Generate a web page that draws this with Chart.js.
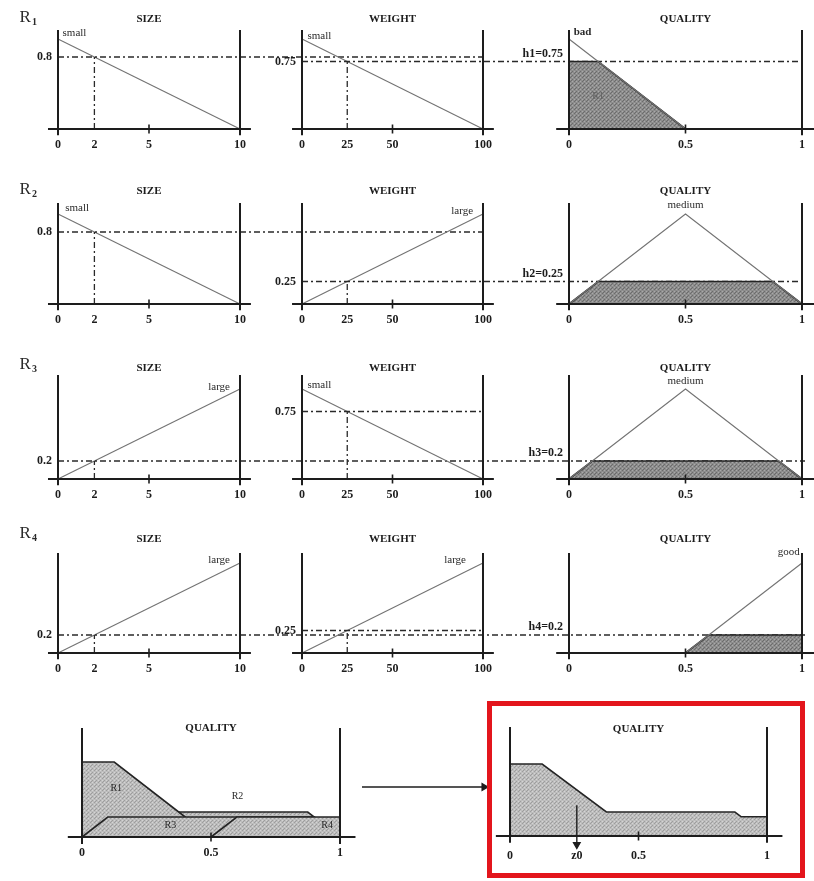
<!DOCTYPE html>
<html>
<head>
<meta charset="utf-8">
<script src="https://cdn.jsdelivr.net/npm/chart.js@4.4.1/dist/chart.umd.min.js"></script>
<style>
  body { margin: 0; background: #fff; }
  #page { position: relative; width: 814px; height: 881px; overflow: hidden; background: #fff; }
  #page canvas { position: absolute; left: 0; }
  #frame { position: absolute; left: 487px; top: 701px; width: 308px; height: 167px; border: 5px solid #e3151c; }
</style>
</head>
<body>
<div id="page"></div>
<script>
// ---- data ----
const rules = ['R1', 'R2', 'R3', 'R4'];
const sizeTerms = ['small', 'small', 'large', 'large'];
const weightTerms = ['small', 'large', 'small', 'large'];
const qualityTerms = ['bad', 'medium', 'medium', 'good'];

const sizeTicks = [0, 2, 5, 10];
const weightTicks = [0, 25, 50, 100];
const qualityTicks = [0, 0.5, 1];
const sizeMarks = [5];
const weightMarks = [50];
const qualityMarks = [0.5];

const inputSize = 2;
const inputWeight = 25;
const sizeDegree = [0.8, 0.8, 0.2, 0.2];
const weightDegree = [0.75, 0.25, 0.75, 0.25];
const ruleStrength = [0.75, 0.25, 0.2, 0.2];

// membership functions
const sizeX = [0, 10];
const sizeSmall = [1, 0];
const sizeLarge = [0, 1];
const weightX = [0, 100];
const weightSmall = [1, 0];
const weightLarge = [0, 1];
const badX = [0, 0.5], badY = [1, 0];
const mediumX = [0, 0.5, 1], mediumY = [0, 1, 0];
const goodX = [0.5, 1], goodY = [0, 1];

// clipped consequents per rule
const cutX = [[0, 0.125, 0.5], [0, 0.125, 0.875, 1], [0, 0.1, 0.9, 1], [0.5, 0.6, 1]];
const cutY = [[0.75, 0.75, 0], [0, 0.25, 0.25, 0], [0, 0.2, 0.2, 0], [0, 0.2, 0.2]];

// aggregated output and its centre
const aggX = [0, 0.125, 0.375, 0.875, 0.9, 1];
const aggY = [0.75, 0.75, 0.25, 0.25, 0.2, 0.2];
const centroid = 0.26;
const outTicks = [0, centroid, 0.5, 1];
const outTickText = ['0', 'z0', '0.5', '1'];

// ---- layout ----
const W = 814, YW = 48, XH = 26, UNIT = 90, HEAD = 18;
const serif = '"Liberation Serif", "DejaVu Serif", serif';
const ink = '#1d1d1d';
const page = document.getElementById('page');

const cols = {
  size: {x0: 58, x1: 240, max: 10},
  weight: {x0: 302, x1: 483, max: 100},
  quality: {x0: 569, x1: 805, max: 1}
};
const rowBox = [
  {base: 129, top: 30, titleY: 20},
  {base: 304, top: 203, titleY: 192},
  {base: 479, top: 375, titleY: 369},
  {base: 653, top: 553, titleY: 540}
];

// text spots, in each panel's own units
const rowNotes = [
  {size: [{x: -1.8, y: 1.24, text: 'R', sub: '1', size: 17, align: 'center'}, {x: 0.25, y: 1.07, text: 'small'}],
   weight: [{x: 3, y: 1.03, text: 'small'}],
   quality: [{x: 0.02, y: 1.08, text: 'bad', bold: true}, {x: 0.1, y: 0.36, text: 'R1', color: '#5f5f5f', size: 10}]},
  {size: [{x: -1.8, y: 1.27, text: 'R', sub: '2', size: 17, align: 'center'}, {x: 0.4, y: 1.06, text: 'small'}],
   weight: [{x: 94.5, y: 1.03, text: 'large', align: 'right'}],
   quality: [{x: 0.5, y: 1.1, text: 'medium', align: 'center'}]},
  {size: [{x: -1.8, y: 1.27, text: 'R', sub: '3', size: 17, align: 'center'}, {x: 9.45, y: 1.02, text: 'large', align: 'right'}],
   weight: [{x: 3, y: 1.04, text: 'small'}],
   quality: [{x: 0.5, y: 1.09, text: 'medium', align: 'center'}]},
  {size: [{x: -1.8, y: 1.33, text: 'R', sub: '4', size: 17, align: 'center'}, {x: 9.45, y: 1.03, text: 'large', align: 'right'}],
   weight: [{x: 90.6, y: 1.03, text: 'large', align: 'right'}],
   quality: [{x: 0.99, y: 1.12, text: 'good', align: 'right'}]}
];

function pts(xs, ys) { return xs.map((x, i) => ({x: x, y: ys[i]})); }
function toUnits(col, px) { return (px - col.x0) / (col.x1 - col.x0) * col.max; }

function dots(base, dark, light) {
  const c = document.createElement('canvas');
  c.width = 4; c.height = 4;
  const g = c.getContext('2d');
  g.fillStyle = base; g.fillRect(0, 0, 4, 4);
  g.fillStyle = dark; g.fillRect(0, 0, 1, 1); g.fillRect(2, 2, 1, 1); g.fillRect(3, 1, 1, 1);
  g.fillStyle = light; g.fillRect(2, 0, 1, 1); g.fillRect(0, 2, 1, 1);
  return g.createPattern(c, 'repeat');
}
const darkDots = dots('#8d8d8d', '#6c6c6c', '#a9a9a9');
const lightDots = dots('#bdbdbd', '#9d9d9d', '#d4d4d4');

function line(data, o) {
  return Object.assign({
    type: 'line', data: data, borderColor: '#737373', borderWidth: 1.1,
    pointRadius: 0, fill: false, clip: false, tension: 0, order: 2
  }, o || {});
}
const axisStyle = {borderColor: ink, borderWidth: 2, order: 0};
const dashStyle = {borderColor: '#2a2a2a', borderWidth: 1.3, borderDash: [6, 3, 2, 3], order: 1};
function cutStyle(pat, ord) {
  return {borderColor: '#242424', borderWidth: 1.6, backgroundColor: pat, fill: 'origin', order: ord || 3};
}

function notesPlugin(items) {
  return {
    id: 'notes',
    afterDatasetsDraw(chart) {
      const ctx = chart.ctx, sx = chart.scales.x, sy = chart.scales.y;
      items.forEach(n => {
        const px = sx.getPixelForValue(n.x), py = sy.getPixelForValue(n.y);
        const size = n.size || 11;
        ctx.save();
        ctx.font = (n.bold ? 'bold ' : '') + size + 'px ' + serif;
        ctx.fillStyle = n.color || '#2a2a2a';
        ctx.textAlign = n.align || 'left';
        ctx.textBaseline = 'middle';
        ctx.fillText(n.text, px, py);
        if (n.sub) {
          const w = ctx.measureText(n.text).width;
          ctx.font = 'bold 10px ' + serif;
          ctx.textAlign = 'left';
          ctx.fillText(n.sub, px + w / 2 + 1, py + 5);
        }
        ctx.restore();
      });
    }
  };
}

function panel(p) {
  const col = p.col, m = col.max;
  const lh = 11 * 1.2;
  const chartTop = p.titleY + 10;
  const ct = Math.round(p.titleY - lh / 2);
  const ymin = p.ymin || 0;
  const bottom = p.base - ymin * p.unit;
  const h = Math.ceil(bottom - ct + HEAD + XH + 24);
  const cv = document.createElement('canvas');
  cv.width = W; cv.height = h; cv.style.top = (ct - HEAD) + 'px';
  page.appendChild(cv);
  const topVal = (p.base - p.top) / p.unit;
  const sets = [
    line([{x: 0, y: -0.07}, {x: 0, y: topVal}], axisStyle),
    line([{x: m, y: -0.07}, {x: m, y: topVal}], axisStyle),
    line([{x: -0.055 * m, y: 0}, {x: 1.06 * m, y: 0}], axisStyle),
    line(p.marks.map(v => ({x: v, y: 0})), {showLine: false, pointStyle: 'line', pointRadius: 4.5,
      pointRotation: 90, pointBorderColor: ink, pointBorderWidth: 1.6, order: 0})
  ].concat(p.sets);
  const tickFont = {family: serif, size: 12, weight: 'bold'};
  new Chart(cv, {
    type: 'line',
    data: {datasets: sets},
    plugins: [notesPlugin(p.notes || [])],
    options: {
      responsive: false, animation: false, events: [],
      layout: {autoPadding: false, padding: {left: col.x0 - YW, right: W - col.x1, top: HEAD,
        bottom: h - HEAD - (bottom - ct) - XH}},
      scales: {
        x: {
          type: 'linear', min: 0, max: m,
          afterBuildTicks: s => { s.ticks = p.ticks.map(v => ({value: v})); },
          afterFit: s => { s.height = XH; },
          grid: {display: false, drawTicks: false}, border: {display: false},
          ticks: {autoSkip: false, maxRotation: 0, padding: p.labelPad == null ? 9 : p.labelPad,
            color: ink, font: tickFont, callback: (v, i) => p.tickText[i]}
        },
        y: {
          type: 'linear', min: ymin, max: (p.base - chartTop) / p.unit,
          afterBuildTicks: s => { s.ticks = (p.yTicks || []).map(v => ({value: v})); },
          afterFit: s => { s.width = YW; },
          grid: {display: false, drawTicks: false}, border: {display: false},
          ticks: {padding: 6, labelOffset: p.yOffset || 0, color: ink, font: tickFont,
            callback: (v, i) => p.yText[i]}
        }
      },
      plugins: {
        legend: {display: false}, tooltip: {enabled: false},
        title: {display: true, text: p.title, fullSize: false, color: ink,
          font: {family: serif, size: 11, weight: 'bold'},
          padding: {top: 0, bottom: chartTop - ct - lh}}
      }
    }
  });
}

// ---- the four rules ----
rules.forEach((rule, r) => {
  const g = rowBox[r];
  const s = sizeDegree[r], wd = weightDegree[r], hr = ruleStrength[r];
  const sizeReach = s > wd ? toUnits(cols.size, cols.weight.x1) : toUnits(cols.size, cols.quality.x1);
  const weightReach = wd > s ? cols.weight.max : toUnits(cols.weight, cols.quality.x1);

  panel({col: cols.size, base: g.base, unit: UNIT, top: g.top, titleY: g.titleY, title: 'SIZE',
    ticks: sizeTicks, tickText: sizeTicks.map(String), marks: sizeMarks,
    yTicks: [s], yText: [String(s)],
    sets: [
      line(pts(sizeX, sizeTerms[r] === 'small' ? sizeSmall : sizeLarge)),
      line([{x: 0, y: s}, {x: sizeReach, y: s}], dashStyle),
      line([{x: inputSize, y: 0}, {x: inputSize, y: s}], dashStyle)
    ],
    notes: rowNotes[r].size});

  panel({col: cols.weight, base: g.base, unit: UNIT, top: g.top, titleY: g.titleY, title: 'WEIGHT',
    ticks: weightTicks, tickText: weightTicks.map(String), marks: weightMarks,
    yTicks: [wd], yText: [String(wd)],
    sets: [
      line(pts(weightX, weightTerms[r] === 'small' ? weightSmall : weightLarge)),
      line([{x: 0, y: wd}, {x: weightReach, y: wd}], dashStyle),
      line([{x: inputWeight, y: 0}, {x: inputWeight, y: wd}], dashStyle)
    ],
    notes: rowNotes[r].weight});

  const term = qualityTerms[r];
  const curve = term === 'bad' ? pts(badX, badY) : term === 'good' ? pts(goodX, goodY) : pts(mediumX, mediumY);
  panel({col: cols.quality, base: g.base, unit: UNIT, top: g.top, titleY: g.titleY, title: 'QUALITY',
    ticks: qualityTicks, tickText: qualityTicks.map(String), marks: qualityMarks,
    yTicks: [hr], yText: ['h' + (r + 1) + '=' + hr], yOffset: -8,
    sets: [
      line(curve),
      line(pts(cutX[r], cutY[r]), cutStyle(darkDots))
    ],
    notes: rowNotes[r].quality});
});

// ---- combined consequents ----
panel({col: {x0: 82, x1: 340, max: 1}, base: 837, unit: 100, top: 728, titleY: 729, title: 'QUALITY',
  ticks: qualityTicks, tickText: qualityTicks.map(String), marks: qualityMarks,
  sets: [
    line(pts(cutX[3], cutY[3]), cutStyle(lightDots, 3)),
    line(pts(cutX[2], cutY[2]), cutStyle(lightDots, 4)),
    line(pts(cutX[0], cutY[0]), cutStyle(lightDots, 5)),
    line(pts(cutX[1], cutY[1]), cutStyle(lightDots, 6))
  ],
  notes: [
    {x: 0.11, y: 0.49, text: 'R1', size: 10},
    {x: 0.58, y: 0.41, text: 'R2', size: 10},
    {x: 0.32, y: 0.12, text: 'R3', size: 10},
    {x: 0.95, y: 0.12, text: 'R4', size: 10, align: 'center'}
  ]});

// ---- aggregated output ----
panel({col: {x0: 510, x1: 767, max: 1}, base: 836, unit: 96, top: 727, titleY: 730, title: 'QUALITY',
  ymin: -0.12, labelPad: 1,
  ticks: outTicks, tickText: outTickText, marks: qualityMarks,
  sets: [
    line([{x: centroid, y: 0.32}, {x: centroid, y: -0.09}], {borderColor: ink, borderWidth: 1.4, order: 1}),
    line([{x: centroid, y: -0.09}], {showLine: false, pointStyle: 'triangle', pointRadius: 4, pointRotation: 180,
      pointBackgroundColor: ink, pointBorderColor: ink, order: 1}),
    line(pts(aggX, aggY), cutStyle(lightDots))
  ]});

// ---- arrow between the two bottom panels ----
(function () {
  const cv = document.createElement('canvas');
  cv.width = 140; cv.height = 20;
  cv.style.left = '354px'; cv.style.top = '777px';
  page.appendChild(cv);
  new Chart(cv, {
    type: 'line',
    data: {datasets: [
      line([{x: 0, y: 0.5}, {x: 1, y: 0.5}], {borderColor: ink, borderWidth: 1.3}),
      line([{x: 1, y: 0.5}], {showLine: false, pointStyle: 'triangle', pointRadius: 4, pointRotation: 90,
        pointBackgroundColor: ink, pointBorderColor: ink})
    ]},
    options: {
      responsive: false, animation: false, events: [],
      layout: {autoPadding: false, padding: {left: 8, right: 10, top: 0, bottom: 0}},
      scales: {x: {type: 'linear', min: 0, max: 1, display: false}, y: {min: 0, max: 1, display: false}},
      plugins: {legend: {display: false}, tooltip: {enabled: false}}
    }
  });
})();

const frame = document.createElement('div');
frame.id = 'frame';
page.appendChild(frame);
</script>
</body>
</html>
